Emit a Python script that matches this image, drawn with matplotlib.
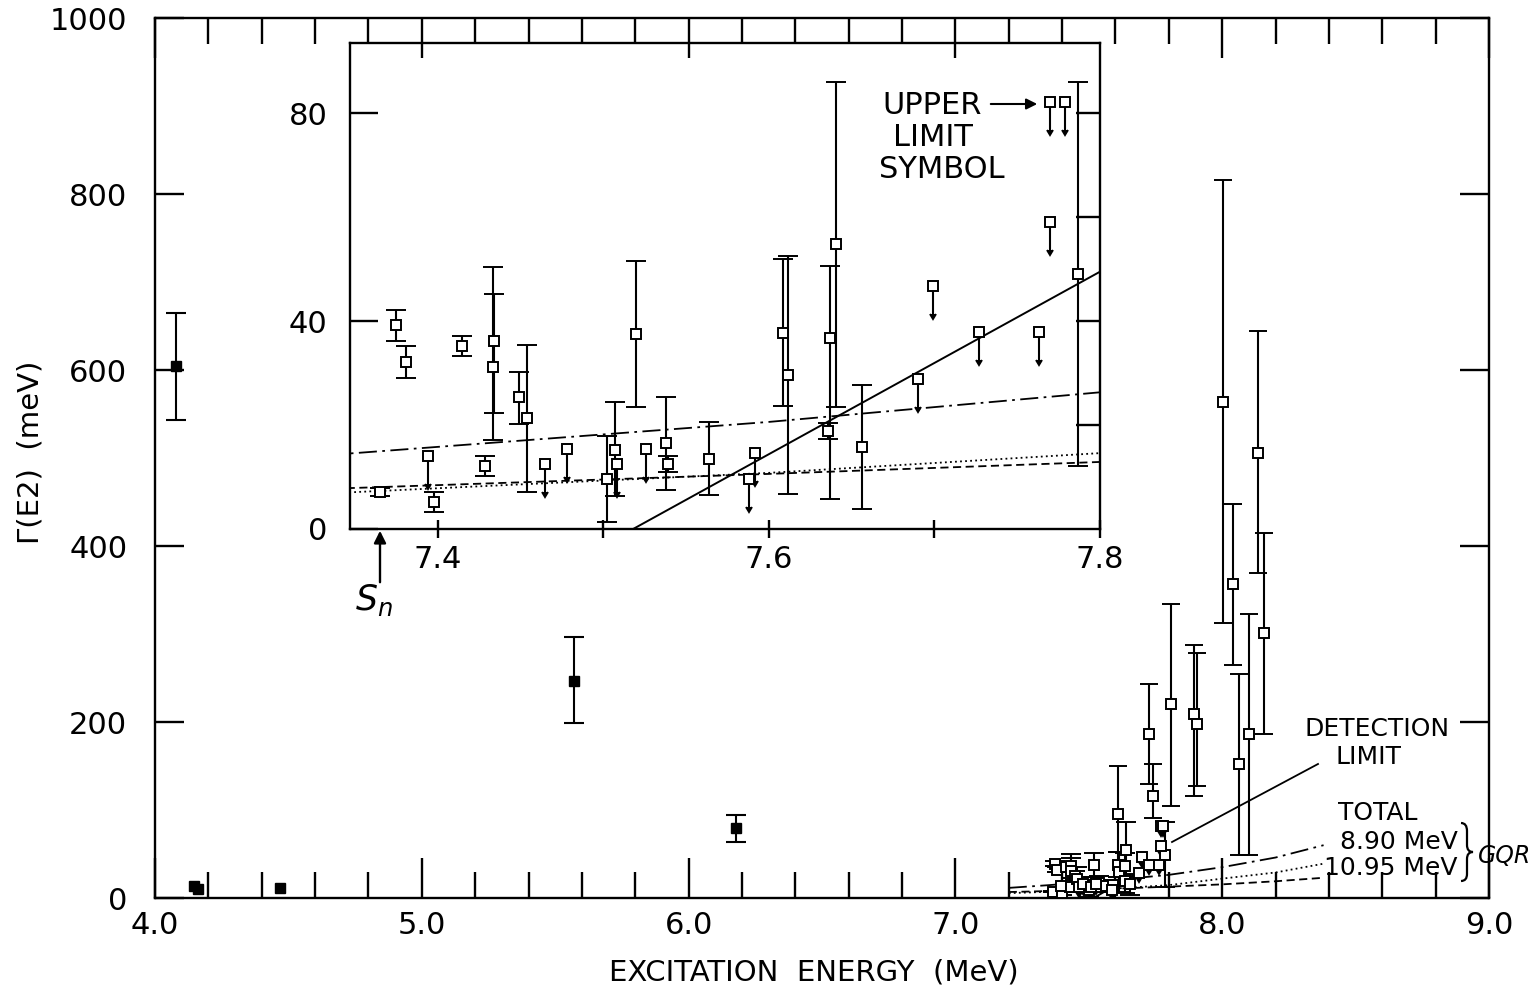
import matplotlib
matplotlib.use("Agg")
import matplotlib.pyplot as plt
from matplotlib.ticker import MultipleLocator, FixedLocator, FormatStrFormatter
from matplotlib.lines import Line2D
from matplotlib.patches import FancyArrowPatch, PathPatch
from matplotlib.path import Path

# ---------------- data ----------------
# bound states below S_n (filled squares)
bound_x = [4.079, 5.571, 6.178]
bound_y = [604, 247, 79]
bound_lo = [543, 199, 64]
bound_hi = [665, 297, 94]
bound_small_x = [4.146, 4.161, 4.467]
bound_small_y = [14, 10, 11]

# resonances above S_n, measured widths (open squares)
res_x = [7.3745, 7.381, 7.365, 7.398, 7.4145, 7.4285, 7.434, 7.4335, 7.449, 7.454,
         7.5025, 7.507, 7.520, 7.538, 7.539, 7.5636, 7.6085, 7.6115, 7.6406, 7.637,
         7.636, 7.656, 7.7867]
res_y = [39.2, 32.1, 7.1, 5.2, 35.2, 12.1, 36.1, 31.2, 25.4, 21.3,
         9.6, 15.2, 37.5, 16.5, 12.5, 13.5, 37.7, 29.6, 54.8, 36.7,
         18.8, 15.8, 49.0]
res_lo = [36.2, 29.0, 6.3, 3.3, 33.3, 10.2, 22.3, 17.1, 20.2, 7.1,
          1.3, 6.3, 23.5, 7.5, 11.0, 6.5, 23.7, 6.7, 23.5, 5.8,
          17.3, 3.8, 12.1]
res_hi = [42.1, 35.2, 7.9, 7.1, 37.1, 14.0, 45.2, 50.4, 30.2, 35.4,
          17.9, 24.4, 51.5, 25.4, 14.0, 20.6, 51.9, 52.5, 86.0, 50.6,
          20.3, 27.7, 86.0]

# resonances with upper limits only
ul_x = [7.394, 7.465, 7.478, 7.508, 7.526, 7.5915, 7.588, 7.690, 7.699, 7.727,
        7.763, 7.7697, 7.7697, 7.779]
ul_y = [14.0, 12.5, 15.4, 12.5, 15.4, 14.6, 9.6, 28.8, 46.7, 37.9,
        37.9, 59.0, 82.1, 82.1]
ul_len = 5.4

# strong resonances (beyond the expanded view)
big_x = [7.609, 7.726, 7.742, 7.808, 7.894, 7.906, 8.003, 8.040, 8.063, 8.100, 8.134, 8.157]
big_y = [95, 186, 116, 221, 209, 198, 564, 357, 152, 186, 506, 301]
big_lo = [52, 130, 91, 105, 116, 127, 312, 265, 49, 49, 369, 186]
big_hi = [150, 243, 152, 334, 288, 278, 816, 448, 255, 323, 644, 415]

# GQR tail estimates and detection limit
curve_x = [7.20, 7.35, 7.60, 7.80, 8.00, 8.20, 8.38]
total_gqr = [11.5, 14.6, 20.6, 26.3, 35.0, 46.0, 60.0]
gqr_890 = [5.5, 7.1, 10.8, 14.6, 22.0, 29.0, 39.0]
gqr_1095 = [6.8, 7.9, 10.6, 12.9, 15.5, 19.0, 23.0]
det_x = [7.518, 7.80]
det_y = [0.0, 49.5]

# ---------------- figure ----------------
W, H = 1535, 991
fig = plt.figure(figsize=(W / 100, H / 100), dpi=100)
fig.patch.set_facecolor("white")
plt.rcParams["font.family"] = ["DejaVu Sans"]


def box(l, t, r, b):
    return [l / W, 1 - b / H, (r - l) / W, (b - t) / H]


def fp(x, y):
    return (x / W, 1 - y / H)


ax = fig.add_axes(box(155, 18, 1489, 898))
ins = fig.add_axes(box(350, 43, 1100, 529))
ins.patch.set_alpha(0)

for a in (ax, ins):
    for s in a.spines.values():
        s.set_linewidth(1.7)

sq = dict(marker="s", ms=6.5, mfc="white", mec="black", mew=1.4, ls="none", zorder=4)
eb = dict(color="black", ecolor="black", elinewidth=1.5, capthick=1.5)


def draw_data(a, with_big):
    a.errorbar(res_x, res_y,
               yerr=[[y - l for y, l in zip(res_y, res_lo)],
                     [h - y for y, h in zip(res_y, res_hi)]],
               capsize=7, **eb, **sq)
    a.errorbar(ul_x, ul_y, yerr=[ul_len] * len(ul_x), uplims=True,
               capsize=2.5, **eb, **sq)
    a.plot(curve_x, total_gqr, color="black", lw=1.3, dashes=(10, 3, 1.5, 3), zorder=2)
    a.plot(curve_x, gqr_890, color="black", lw=1.3, dashes=(1, 1.8), zorder=2)
    a.plot(curve_x, gqr_1095, color="black", lw=1.3, dashes=(4.5, 2.5), zorder=2)
    a.plot(det_x, det_y, color="black", lw=1.4, zorder=2)
    if with_big:
        a.errorbar(big_x, big_y,
                   yerr=[[y - l for y, l in zip(big_y, big_lo)],
                         [h - y for y, h in zip(big_y, big_hi)]],
                   capsize=6.5, **eb, **sq)


# main panel
draw_data(ax, True)
ax.errorbar(bound_x, bound_y,
            yerr=[[y - l for y, l in zip(bound_y, bound_lo)],
                  [h - y for y, h in zip(bound_y, bound_hi)]],
            fmt="s", ms=7, capsize=7, **eb, zorder=4)
ax.plot(bound_small_x, bound_small_y, "s", ms=7, color="black", zorder=4)

ax.set_xlim(4.0, 9.0)
ax.set_ylim(0, 1000)
ax.xaxis.set_major_locator(MultipleLocator(1.0))
ax.xaxis.set_minor_locator(MultipleLocator(0.2))
ax.xaxis.set_major_formatter(FormatStrFormatter("%.1f"))
ax.yaxis.set_major_locator(MultipleLocator(200))
ax.tick_params(axis="x", which="major", direction="in", top=True, bottom=True,
               length=29, width=1.7, labelsize=22, pad=9)
ax.tick_params(axis="x", which="minor", direction="in", top=True, bottom=True,
               length=19, width=1.7)
ax.tick_params(axis="y", which="major", direction="in", left=True, right=True,
               length=21, width=1.7, labelsize=22, pad=20)

# expanded view
draw_data(ins, False)
ins.set_xlim(7.347, 7.8)
ins.set_ylim(0, 93.5)
ins.xaxis.set_major_locator(FixedLocator([7.4, 7.5, 7.6, 7.7, 7.8]))
ins.set_xticklabels(["7.4", "", "7.6", "", "7.8"])
ins.tick_params(axis="x", which="major", direction="inout", top=False, bottom=True,
                length=13, width=1.7, labelsize=22, pad=5)
ins.yaxis.set_major_locator(FixedLocator([0, 40, 80]))
ins.yaxis.set_minor_locator(FixedLocator([20, 40, 60, 80]))
ins.yaxis.remove_overlapping_locs = False
ins.tick_params(axis="y", which="major", direction="in", left=True, right=False,
                length=20, width=1.7, labelsize=22, pad=16)
ins.tick_params(axis="y", which="minor", direction="in", left=False, right=True,
                length=17, width=1.7)

# axis titles
fig.text(*fp(814, 972), "EXCITATION  ENERGY  (MeV)", fontsize=21,
         ha="center", va="center")
fig.text(*fp(31, 452), "Γ(E2)  (meV)", fontsize=21, rotation=90,
         ha="center", va="center")

# annotations in the expanded view
for txt, x, y in [("UPPER", 932, 105), ("LIMIT", 933, 138), ("SYMBOL", 942, 170)]:
    fig.text(*fp(x, y), txt, fontsize=22, ha="center", va="center")
fig.add_artist(FancyArrowPatch(fp(988, 104), fp(1040, 104), transform=fig.transFigure,
                               arrowstyle="-|>", mutation_scale=16, lw=1.5, color="black"))
fig.text(*fp(374, 600), r"$S_n$", fontsize=25, ha="center", va="center")
fig.add_artist(FancyArrowPatch(fp(380, 585), fp(380, 528), transform=fig.transFigure,
                               arrowstyle="-|>", mutation_scale=18, lw=1.7, color="black"))

# annotations in the main panel
fig.text(*fp(1377, 729), "DETECTION", fontsize=18, ha="center", va="center")
fig.text(*fp(1369, 757), "LIMIT", fontsize=18, ha="center", va="center")
fig.add_artist(Line2D([1318 / W, 1172 / W], [1 - 764 / H, 1 - 842 / H],
                      transform=fig.transFigure, color="black", lw=1.3))
fig.text(*fp(1378, 813), "TOTAL", fontsize=18, ha="center", va="center")
fig.text(*fp(1458, 842), "8.90 MeV", fontsize=18, ha="right", va="center")
fig.text(*fp(1458, 868), "10.95 MeV", fontsize=18, ha="right", va="center")

# curly brace grouping the two GQR curves
brace_pts = [(1461, 823), (1467, 823), (1467, 831), (1467, 845),
             (1467, 852), (1473, 852), (1467, 852), (1467, 859),
             (1467, 874), (1467, 881), (1461, 881)]
brace_codes = [Path.MOVETO, Path.CURVE3, Path.CURVE3, Path.LINETO,
               Path.CURVE3, Path.CURVE3, Path.CURVE3, Path.CURVE3,
               Path.LINETO, Path.CURVE3, Path.CURVE3]
brace = Path([fp(x, y) for x, y in brace_pts], brace_codes)
fig.add_artist(PathPatch(brace, transform=fig.transFigure, fill=False,
                         lw=1.6, edgecolor="black"))
fig.text(*fp(1478, 856), "GQR", fontsize=17, ha="left", va="center", style="italic")

fig.savefig("out.png", dpi=100, facecolor="white")
